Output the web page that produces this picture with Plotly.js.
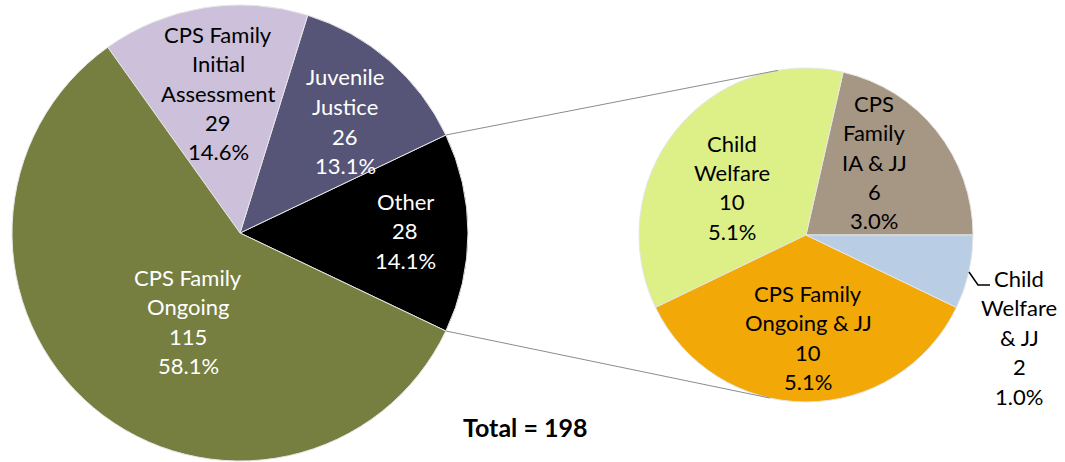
<!DOCTYPE html>
<html>
<head>
<meta charset="utf-8">
<script src="https://cdn.plot.ly/plotly-3.0.1.min.js"></script>
<style>html,body{margin:0;padding:0;background:#fff;}#chart{width:1065px;height:462px;}</style>
</head>
<body>
<div id="chart"></div>
<script>
// ---- data ----
const mainLabelLines = [['Other'], ['Juvenile', 'Justice'], ['CPS Family', 'Initial', 'Assessment'], ['CPS Family', 'Ongoing']];
const mainValues = [28, 26, 29, 115];
const mainColors = ['#000000', '#565577', '#CCC0DA', '#767E40'];
const mainTextColors = ['#ffffff', '#ffffff', '#000000', '#ffffff'];

const subLabelLines = [['CPS', 'Family', 'IA & JJ'], ['Child', 'Welfare'], ['CPS Family', 'Ongoing & JJ'], ['Child', 'Welfare', '& JJ']];
const subValues = [6, 10, 10, 2];
const subColors = ['#A69684', '#DCF087', '#F2A807', '#B9CDE4'];
const subTextColors = ['#000000', '#000000', '#000000', '#000000'];

const total = mainValues.reduce((a, b) => a + b, 0);
const subTotal = subValues.reduce((a, b) => a + b, 0);

// ---- layout constants (pixels) ----
const W = 1065, H = 462;
const mainCenter = [240, 233], mainR = 228;
const subCenter = [806, 235], subR = 167;
const lineGap = 29.5;
const mainLabelPos = [[405, 201], [345, 77], [218, 34], [188, 277]];
const subLabelPos = [[874, 103], [732, 143], [808, 293], [1019, 278]];

const px = x => x / W;
const py = y => 1 - y / H;

const labelText = lines => lines.join(' ');

// In plotly's counterclockwise mode, rotation marks the CCW edge of the first slice.
const mainTrace = {
  type: 'pie',
  labels: mainLabelLines.map(labelText),
  values: mainValues,
  sort: false,
  direction: 'counterclockwise',
  rotation: 90 - (mainValues[0] / total) * 180,
  marker: {colors: mainColors, line: {color: '#e6e6e6', width: 1}},
  textinfo: 'none',
  hoverinfo: 'label+value+percent',
  showlegend: false,
  domain: {x: [px(mainCenter[0] - mainR), px(mainCenter[0] + mainR)],
           y: [py(mainCenter[1] + mainR), py(mainCenter[1] - mainR)]}
};

const subTrace = {
  type: 'pie',
  labels: subLabelLines.map(labelText),
  values: subValues,
  sort: false,
  direction: 'counterclockwise',
  rotation: 90 - (subValues[0] / subTotal) * 360,
  marker: {colors: subColors, line: {color: '#e6e6e6', width: 1}},
  textinfo: 'none',
  hoverinfo: 'label+value',
  showlegend: false,
  domain: {x: [px(subCenter[0] - subR), px(subCenter[0] + subR)],
           y: [py(subCenter[1] + subR), py(subCenter[1] - subR)]}
};

const FONT = 'Lato, "Open Sans", sans-serif';
const annotations = [];
function addLabel(lines, value, pos, color) {
  const all = lines.concat([String(value), (value / total * 100).toFixed(1) + '%']);
  all.forEach((t, i) => {
    annotations.push({
      x: px(pos[0]), y: py(pos[1] + i * lineGap), xref: 'paper', yref: 'paper',
      text: t, showarrow: false, xanchor: 'center', yanchor: 'middle',
      font: {family: FONT, size: 22, color: color}
    });
  });
}
mainLabelLines.forEach((l, i) => addLabel(l, mainValues[i], mainLabelPos[i], mainTextColors[i]));
subLabelLines.forEach((l, i) => addLabel(l, subValues[i], subLabelPos[i], subTextColors[i]));

annotations.push({
  x: px(525), y: py(427), xref: 'paper', yref: 'paper', showarrow: false,
  xanchor: 'center', yanchor: 'middle',
  text: '<b>Total = ' + total + '</b>',
  font: {family: FONT, size: 25, color: '#000000'}
});

// connector lines (pie-of-pie)
const half = (mainValues[0] / total) * Math.PI;
const mTop = [mainCenter[0] + mainR * Math.cos(half), mainCenter[1] - mainR * Math.sin(half)];
const mBot = [mainCenter[0] + mainR * Math.cos(half), mainCenter[1] + mainR * Math.sin(half)];
const aTop = 99.6 * Math.PI / 180, aBot = -102.5 * Math.PI / 180;
const sTop = [subCenter[0] + subR * Math.cos(aTop), subCenter[1] - subR * Math.sin(aTop)];
const sBot = [subCenter[0] + subR * Math.cos(aBot), subCenter[1] - subR * Math.sin(aBot)];

const shapes = [
  {type: 'line', xref: 'paper', yref: 'paper', x0: px(mTop[0]), y0: py(mTop[1]), x1: px(sTop[0]), y1: py(sTop[1]),
   line: {color: '#8c8c8c', width: 1}},
  {type: 'line', xref: 'paper', yref: 'paper', x0: px(mBot[0]), y0: py(mBot[1]), x1: px(sBot[0]), y1: py(sBot[1]),
   line: {color: '#8c8c8c', width: 1}},
  // leader line for small slice label
  {type: 'path', xref: 'paper', yref: 'paper',
   path: 'M ' + px(969) + ' ' + py(272) + ' L ' + px(978) + ' ' + py(285) + ' L ' + px(990) + ' ' + py(285),
   line: {color: '#000000', width: 1.5}}
];

const layout = {
  width: W, height: H,
  margin: {l: 0, r: 0, t: 0, b: 0},
  paper_bgcolor: '#ffffff',
  plot_bgcolor: '#ffffff',
  showlegend: false,
  annotations: annotations,
  shapes: shapes
};

Plotly.newPlot('chart', [mainTrace, subTrace], layout, {displayModeBar: false, staticPlot: true});
</script>
</body>
</html>
